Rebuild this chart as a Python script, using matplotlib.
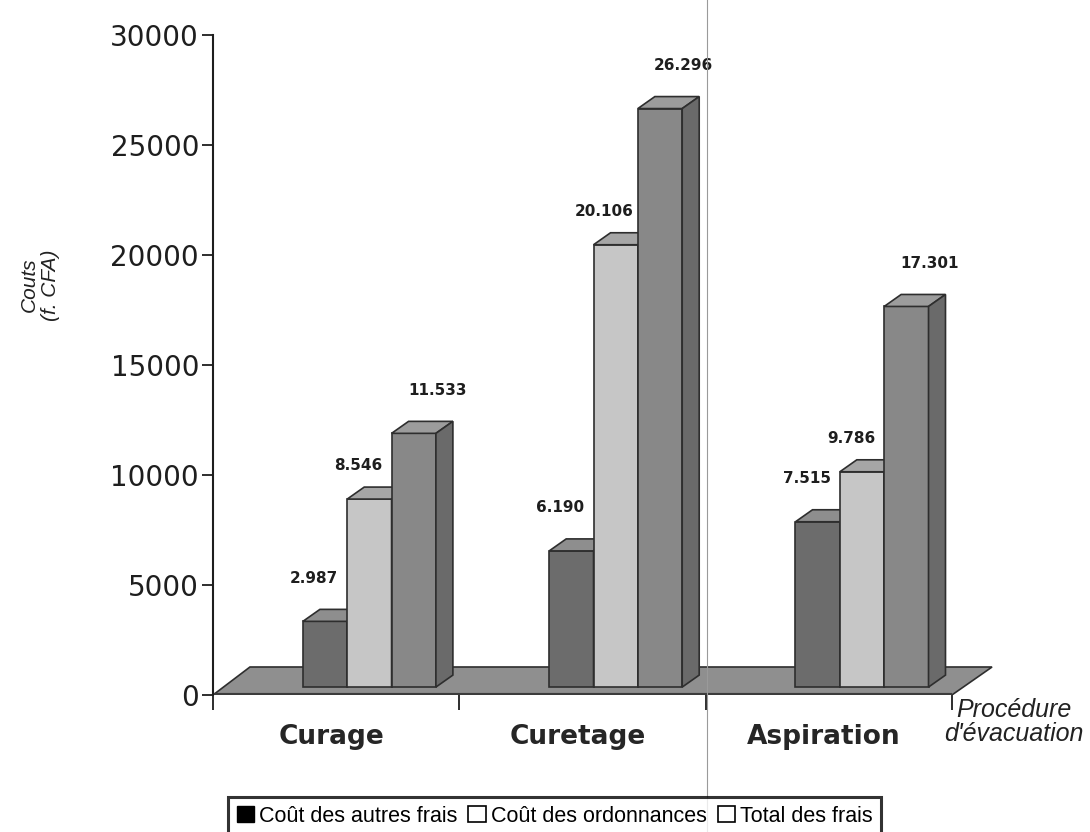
import matplotlib.pyplot as plt
from matplotlib.patches import Polygon, Patch
from matplotlib.lines import Line2D

procedures = ["Curage", "Curetage", "Aspiration"]
series = ["Coût des autres frais", "Coût des ordonnances", "Total des frais"]
autres_frais = [2987, 6190, 7515]
ordonnances = [8546, 20106, 9786]
total_frais = [11533, 26296, 17301]
yticks = [0, 5000, 10000, 15000, 20000, 25000, 30000]

values = [autres_frais, ordonnances, total_frais]
front_colors = ["#6c6c6c", "#c6c6c6", "#888888"]
top_colors = ["#8e8e8e", "#a6a6a6", "#9c9c9c"]
side_colors = ["#555555", "#8a8a8a", "#6a6a6a"]
edge = "#2e2e2e"

# fake 3d: depth shift of the top/side faces, in data units
DX, DY = 0.069, 545
BASE = 360          # bars stand a little behind the front edge of the floor
X0, W = 0.365, 0.18  # left edge of a group inside its category, bar width
FLOOR_DX, FLOOR_DY = 0.15, 1273

# label offsets (points) per series
label_off = [(-8, 31), (-8, 24), (17, 31)]

plt.rcParams["font.family"] = ["DejaVu Sans"]

fig = plt.figure(figsize=(10.9, 8.32), dpi=100)
ax = fig.add_axes([213 / 1090, 137 / 832, 787 / 1090, 660 / 832])
ax.set_xlim(0, 787 / 246.3)
ax.set_ylim(0, 30000)

# floor
n = len(procedures)
floor = Polygon([(0, 0), (n, 0), (n + FLOOR_DX + 0.013, FLOOR_DY), (FLOOR_DX, FLOOR_DY)],
                closed=True, facecolor="#8f8f8f", edgecolor=edge, lw=1.2, zorder=1)
ax.add_patch(floor)
ax.plot([0, n], [0, 0], color="#3c3c3c", lw=3, zorder=1.5, solid_capstyle="butt")

z = 2
for i in range(n):
    for k in range(len(series)):
        v = values[k][i]
        x = i + X0 + k * W
        top = BASE + v
        ax.bar(x, v, W, bottom=BASE, align="edge", color=front_colors[k],
               edgecolor=edge, lw=1.2, zorder=z)
        ax.add_patch(Polygon([(x, top), (x + W, top), (x + W + DX, top + DY), (x + DX, top + DY)],
                             closed=True, facecolor=top_colors[k], edgecolor=edge, lw=1.2, zorder=z))
        ax.add_patch(Polygon([(x + W, BASE), (x + W + DX, BASE + DY), (x + W + DX, top + DY), (x + W, top)],
                             closed=True, facecolor=side_colors[k], edgecolor=edge, lw=1.2, zorder=z))
        ox, oy = label_off[k]
        ax.annotate(f"{v:,}".replace(",", "."), xy=(x + W / 2, top), xytext=(ox, oy),
                    textcoords="offset points", ha="center", va="center",
                    fontsize=11, fontweight="bold", color="#1e1e1e", zorder=10)
        z += 1

for s in ["top", "right", "bottom"]:
    ax.spines[s].set_visible(False)
ax.spines["left"].set_linewidth(1.5)
ax.spines["left"].set_color("#1e1e1e")

ax.set_yticks(yticks)
ax.set_yticklabels([str(t) for t in yticks])
ax.tick_params(axis="y", direction="out", length=8, width=1.3, pad=2,
               labelsize=20, colors="#1e1e1e")

ax.set_xticks(range(n + 1))
ax.set_xticklabels([""] * (n + 1))
ax.tick_params(axis="x", which="major", direction="out", length=11, width=1.3, color="#1e1e1e")
ax.set_xticks([i + 0.48 for i in range(n)], minor=True)
ax.set_xticklabels(procedures, minor=True, fontsize=19, fontweight="bold", color="#262626")
ax.tick_params(axis="x", which="minor", length=0, pad=21)

fig.text(40 / 1090, 1 - 285 / 832, "Couts\n(f. CFA)", rotation=90, ha="center", va="center",
         multialignment="center", fontsize=15, style="italic", family="Liberation Sans", color="#222222")
fig.text(1014 / 1090, 1 - 722 / 832, "Procédure\nd'évacuation", ha="center", va="center",
         multialignment="center", fontsize=18, style="italic", family="Liberation Sans",
         color="#222222", linespacing=1.05)

handles = [Patch(facecolor="black", edgecolor="black"),
           Patch(facecolor="white", edgecolor="black", lw=1.2),
           Patch(facecolor="white", edgecolor="black", lw=1.2)]
leg = fig.legend(handles, series, loc="upper left", bbox_to_anchor=(228 / 1090, 1 - 797 / 832),
                 ncol=3, frameon=True, fancybox=False, edgecolor="black",
                 prop={"family": "Liberation Sans", "size": 15.5},
                 handlelength=0.8, handleheight=0.8, handletextpad=0.25,
                 columnspacing=0.5, borderpad=0.4, borderaxespad=0)
leg.get_frame().set_linewidth(2.2)

# thin vertical fold line running down the page
fig.add_artist(Line2D([707 / 1090, 707 / 1090], [0, 1], color="#9a9a9a", lw=0.8))

fig.savefig("out.png", dpi=100)
